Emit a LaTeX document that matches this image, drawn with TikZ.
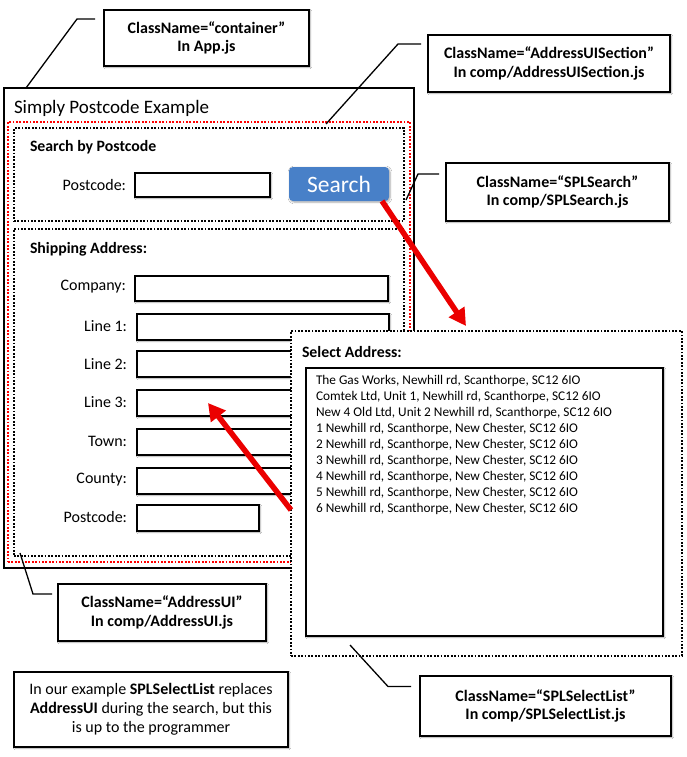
\documentclass[tikz,border=0pt]{standalone}
\usepackage{fontspec}
\setmainfont{Carlito}
\usetikzlibrary{arrows.meta,shadows,shadows.blur}
\definecolor{btnblue}{RGB}{72,128,200}
\definecolor{arrowred}{RGB}{235,0,0}
\begin{document}
\begin{tikzpicture}[x=1pt,y=-1pt,
  every node/.style={inner sep=0pt,outer sep=0pt},
  soft/.style={blur shadow={shadow xshift=1pt,shadow yshift=-1pt,shadow blur steps=6,shadow opacity=35}},
  field/.style={draw,line width=1.8pt,fill=white,soft,anchor=north west},
  callout/.style={draw,line width=1.8pt,fill=white,soft,anchor=north west,align=center,
    font=\fontsize{16}{18.5}\selectfont\bfseries},
  dotbox/.style={draw,line width=1.8pt,dash pattern=on 1.8pt off 1.6pt,anchor=north west},
  lbl/.style={anchor=east,font=\fontsize{16}{18}\selectfont},
  hdr/.style={anchor=west,font=\fontsize{15.8}{18}\selectfont\bfseries},
  item/.style={anchor=west,font=\fontsize{13.3}{15}\selectfont},
  leader/.style={draw,line width=1.3pt},
  redarrow/.style={draw=arrowred,line width=5.5pt,-{Triangle[length=17pt,width=18pt]}}
]
\useasboundingbox (0,0) rectangle (686,757);
\fill[white] (0,0) rectangle (686,757);

% container
\node[draw,line width=1.5pt,anchor=north west,minimum width=410pt,minimum height=480pt] (container) at (4,88) {};
\node[anchor=west,font=\fontsize{19}{22}\selectfont] (title) at (14,108) {Simply Postcode Example};

% AddressUISection (red dotted)
\node[dotbox,draw=red,minimum width=402pt,minimum height=440pt] (section) at (8,122) {};

% SPLSearch
\node[dotbox,minimum width=390pt,minimum height=93pt] (search) at (14,128) {};
\node[hdr] (shdr) at (30,147) {Search by Postcode};
\node[lbl] (spcl) at (126,185) {Postcode:};
\node[field,minimum width=135pt,minimum height=24pt] (spcf) at (135,173) {};
\node[anchor=north west,fill=btnblue,rounded corners=4pt,minimum width=100pt,minimum height=34pt,
  text=white,font=\fontsize{23.5}{26}\selectfont,soft] (btn) at (289,167) {Search};

% AddressUI
\node[dotbox,minimum width=390pt,minimum height=327pt] (addr) at (14,229) {};
\node[hdr] (ahdr) at (30,249) {Shipping Address:};
\node[lbl] (lcomp) at (126,287) {Company:};
\node[field,minimum width=253pt,minimum height=25pt] (fcomp) at (135,276) {};
\node[lbl] (ll1) at (127,326) {Line 1:};
\node[field,minimum width=252pt,minimum height=26pt] (fl1) at (137,314) {};
\node[lbl] (ll2) at (127,364) {Line 2:};
\node[field,minimum width=252pt,minimum height=26pt] (fl2) at (137,351) {};
\node[lbl] (ll3) at (127,402) {Line 3:};
\node[field,minimum width=252pt,minimum height=26pt] (fl3) at (137,390) {};
\node[lbl] (ltown) at (127,441) {Town:};
\node[field,minimum width=252pt,minimum height=26pt] (ftown) at (137,429) {};
\node[lbl] (lcounty) at (127,480) {County:};
\node[field,minimum width=252pt,minimum height=26pt] (fcounty) at (137,468) {};
\node[lbl] (lpc) at (127,517) {Postcode:};
\node[field,minimum width=122pt,minimum height=26pt] (fpc) at (137,505) {};

% SPLSelectList
\node[dotbox,fill=white,minimum width=391pt,minimum height=325pt] (sel) at (291,331) {};
\node[hdr] (selhdr) at (302,352) {Select Address:};
\node[field,line width=2.6pt,minimum width=357pt,minimum height=268pt] (list) at (306,368) {};
\node[item] (i1) at (316,381) {The Gas Works, Newhill rd, Scanthorpe, SC12 6IO};
\node[item] (i2) at (316,397) {Comtek Ltd, Unit 1, Newhill rd, Scanthorpe, SC12 6IO};
\node[item] (i3) at (316,413) {New 4 Old Ltd, Unit 2 Newhill rd, Scanthorpe, SC12 6IO};
\node[item] (i4) at (316,429) {1 Newhill rd, Scanthorpe, New Chester, SC12 6IO};
\node[item] (i5) at (316,445) {2 Newhill rd, Scanthorpe, New Chester, SC12 6IO};
\node[item] (i6) at (316,461) {3 Newhill rd, Scanthorpe, New Chester, SC12 6IO};
\node[item] (i7) at (316,477) {4 Newhill rd, Scanthorpe, New Chester, SC12 6IO};
\node[item] (i8) at (316,493) {5 Newhill rd, Scanthorpe, New Chester, SC12 6IO};
\node[item] (i9) at (316,509) {6 Newhill rd, Scanthorpe, New Chester, SC12 6IO};

% red arrows
\coordinate (selin) at (466,326);
\coordinate (l3tip) at (208,403);
\draw[redarrow] ([xshift=-7pt]btn.south east) -- (selin);
\draw[redarrow] ([yshift=-179pt]sel.north west) -- (l3tip);

% callouts
\node[callout,minimum width=205pt,minimum height=56pt] (ccont) at (104,10) {ClassName=“container”\\In App.js};
\node[callout,minimum width=242pt,minimum height=57pt] (csect) at (428,35) {ClassName=“AddressUISection”\\In comp/AddressUISection.js};
\node[callout,minimum width=223pt,minimum height=58pt] (csearch) at (446,163) {ClassName=“SPLSearch”\\In comp/SPLSearch.js};
\node[callout,minimum width=208pt,minimum height=57pt] (caddr) at (58,584) {ClassName=“AddressUI”\\In comp/AddressUI.js};
\node[callout,minimum width=251pt,minimum height=60pt] (csel) at (420,676) {ClassName=“SPLSelectList”\\In comp/SPLSelectList.js};
\node[draw,line width=1.8pt,fill=white,soft,anchor=north west,align=center,
  font=\fontsize{16}{19}\selectfont,minimum width=274pt,minimum height=75pt] (note) at (14,672)
  {In our example \textbf{SPLSelectList} replaces\\\textbf{AddressUI} during the search, but this\\is up to the programmer};

% leaders
\coordinate (kcont) at (26,88);
\coordinate (ksect) at (326,124);
\coordinate (ksearch) at (406,200);
\coordinate (kaddr) at (20,553);
\coordinate (ksel) at (350,645);
\draw[leader] ([xshift=-9pt,yshift=19pt]ccont.west) -- ++(-18,0) -- (kcont);
\draw[leader] ([xshift=-7pt,yshift=19.5pt]csect.west) -- ++(-23,0) -- (ksect);
\draw[leader] ([xshift=-7pt,yshift=18pt]csearch.west) -- ++(-21,0) -- (ksearch);
\draw[leader] ([xshift=-6pt,yshift=18.5pt]caddr.west) -- ++(-19,0) -- (kaddr);
\draw[leader] ([xshift=-9pt,yshift=19.5pt]csel.west) -- ++(-23,0) -- (ksel);
\end{tikzpicture}
\end{document}
